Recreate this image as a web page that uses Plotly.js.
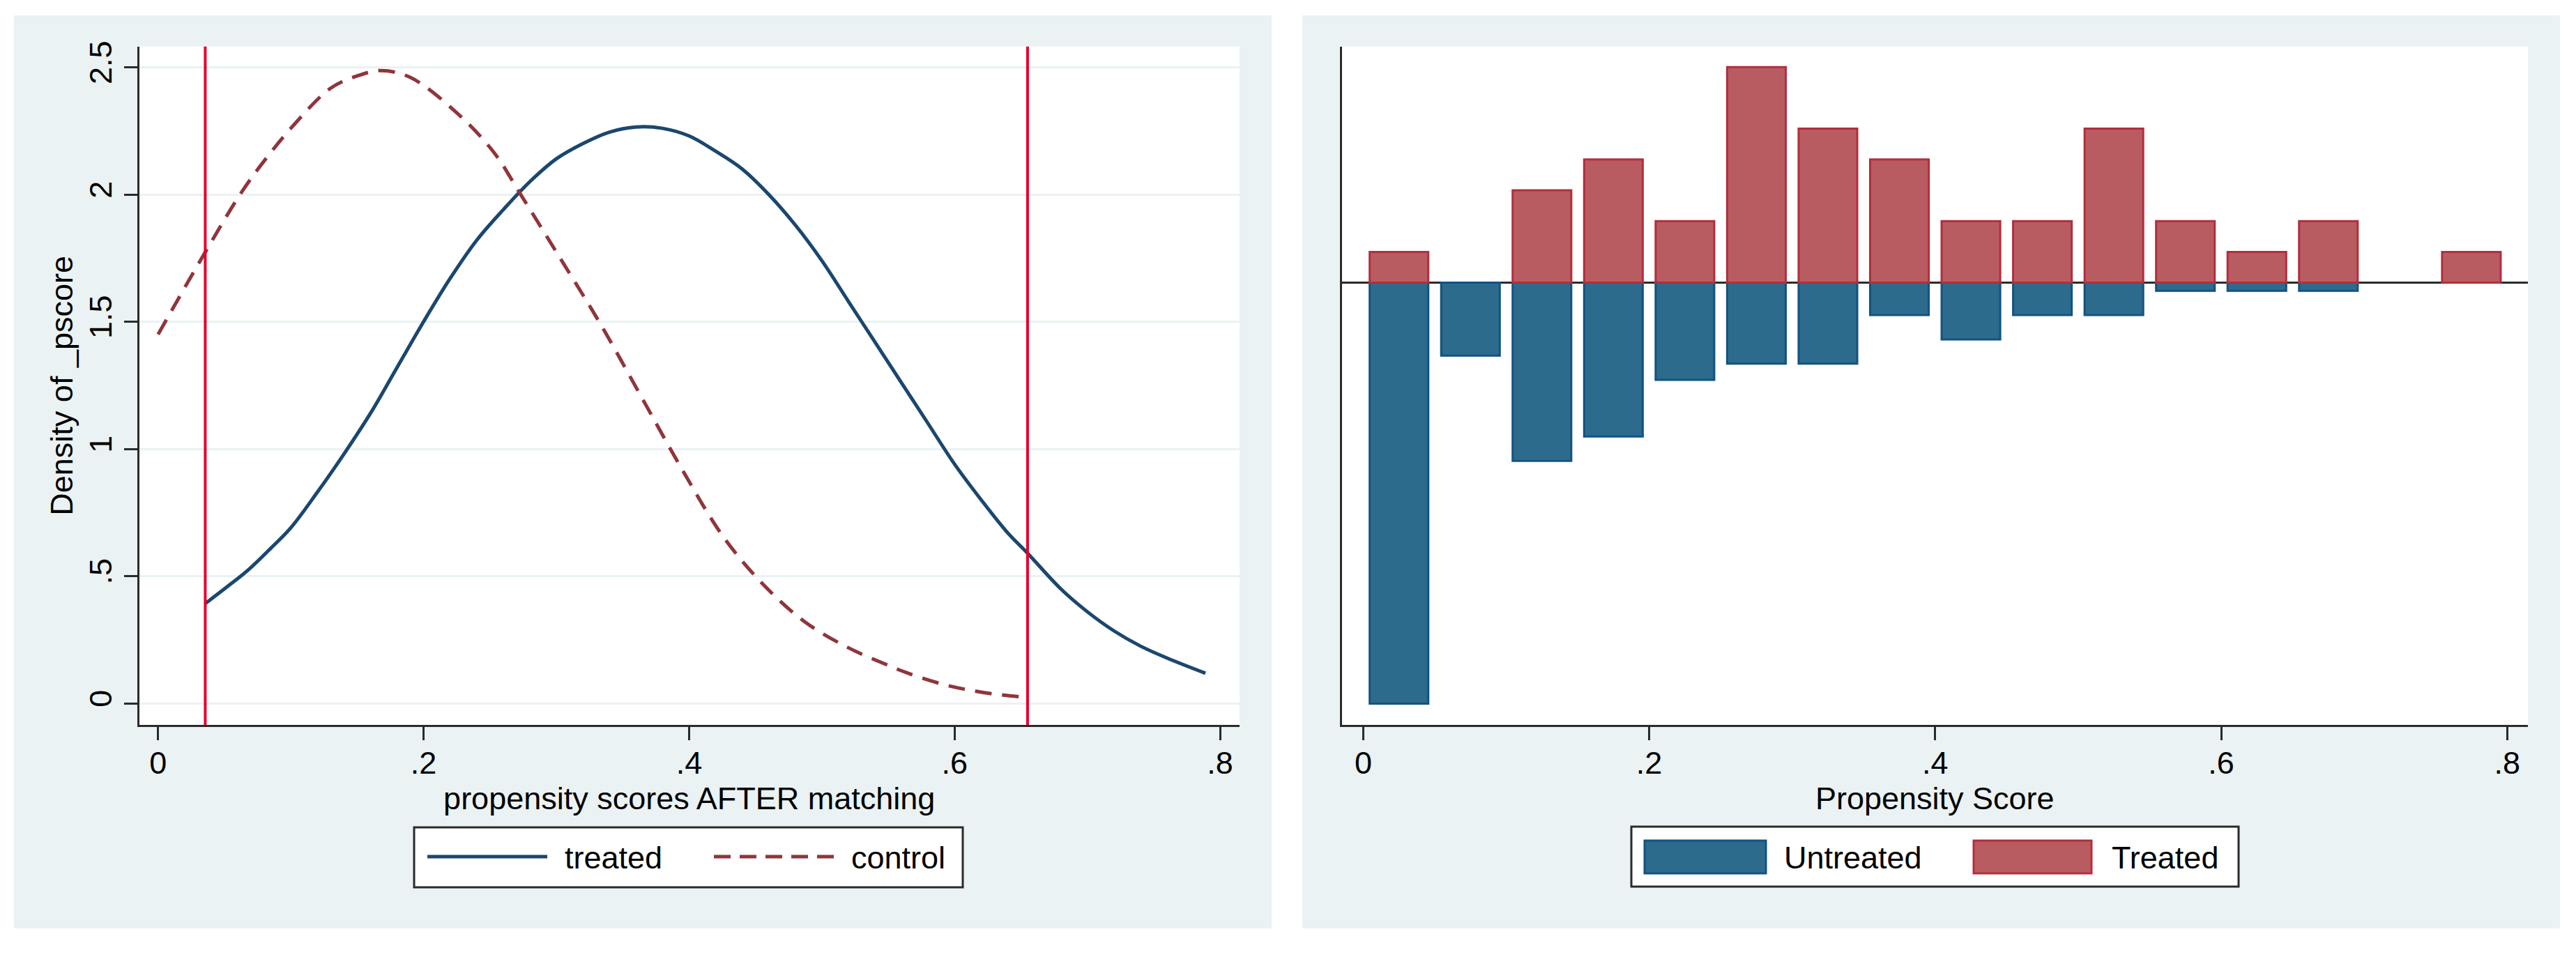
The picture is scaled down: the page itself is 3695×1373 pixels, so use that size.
<!DOCTYPE html>
<html>
<head>
<meta charset="utf-8">
<script src="https://cdn.plot.ly/plotly-3.0.1.min.js"></script>
<style>
  html, body { margin: 0; padding: 0; background: #ffffff; }
  #chart { width: 3695px; height: 1373px; }
</style>
</head>
<body>
<div id="chart"></div>
<script>
// ---------------- data ----------------
// Left panel: kernel densities of the propensity score after matching
const treatedX = [0.0355, 0.05, 0.067, 0.085, 0.10, 0.12, 0.14, 0.16, 0.18, 0.20, 0.22, 0.24, 0.26, 0.28, 0.30, 0.32, 0.34, 0.36, 0.38, 0.40, 0.42, 0.44, 0.46, 0.48, 0.50, 0.52, 0.54, 0.56, 0.58, 0.60, 0.62, 0.64, 0.655, 0.68, 0.70, 0.72, 0.74, 0.76, 0.789];
const treatedY = [0.392, 0.45, 0.52, 0.61, 0.69, 0.83, 0.98, 1.14, 1.32, 1.50, 1.67, 1.82, 1.94, 2.05, 2.14, 2.20, 2.245, 2.265, 2.26, 2.23, 2.17, 2.10, 2.00, 1.88, 1.74, 1.58, 1.42, 1.26, 1.10, 0.94, 0.80, 0.67, 0.59, 0.45, 0.36, 0.285, 0.225, 0.178, 0.118];

const controlX = [0.0, 0.0357, 0.063, 0.082, 0.102, 0.13, 0.15, 0.168, 0.19, 0.225, 0.253, 0.273, 0.302, 0.333, 0.364, 0.395, 0.426, 0.457, 0.488, 0.519, 0.55, 0.564, 0.591, 0.611, 0.632, 0.655];
const controlY = [1.45, 1.775, 2.01, 2.146, 2.272, 2.418, 2.466, 2.487, 2.46, 2.321, 2.165, 2.001, 1.757, 1.493, 1.205, 0.917, 0.653, 0.461, 0.317, 0.221, 0.149, 0.12, 0.075, 0.052, 0.035, 0.023];

// common-support lines (xline)
const supportLines = [0.0355, 0.655];

// Right panel: mirrored histogram of propensity scores (bin width .05)
const binCenters = [0.025, 0.075, 0.125, 0.175, 0.225, 0.275, 0.325, 0.375, 0.425, 0.475, 0.525, 0.575, 0.625, 0.675, 0.725, 0.775];
const treatedCounts   = [1, 0, 3, 4, 2, 7, 5, 4, 2, 2, 5, 2, 1, 2, 0, 1];
const untreatedCounts = [52, 9, 22, 19, 12, 10, 10, 4, 7, 4, 4, 1, 1, 1, 0, 0];

// axis ticks
const xTickVals = [0, 0.2, 0.4, 0.6, 0.8];
const xTickText = ['0', '.2', '.4', '.6', '.8'];
const yTickVals = [0, 0.5, 1, 1.5, 2, 2.5];
const yTickText = ['0', '.5', '1', '1.5', '2', '2.5'];

// text
const leftXTitle = 'propensity scores AFTER matching';
const leftYTitle = 'Density of _pscore';
const rightXTitle = 'Propensity Score';
const leftLegendLabels = ['treated', 'control'];
const rightLegendLabels = ['Untreated', 'Treated'];

// ---------------- derived ----------------
const sum = a => a.reduce((s, v) => s + v, 0);
const nT = sum(treatedCounts), nU = sum(untreatedCounts);
// fractions; empty bins are left out (null) so no zero-height outline is drawn
const treatedShare = treatedCounts.map(c => c === 0 ? null : c / nT);
const untreatedShare = untreatedCounts.map(c => c === 0 ? null : -c / nU);

// ---------------- style ----------------
const W = 3695, H = 1373;
const PX = v => v / W;
const PY = v => 1 - v / H;
const FONT = 'Liberation Sans, Arial, Helvetica, sans-serif';
const NAVY = '#1A476F', MAROON = '#90353B', VRED = '#E5002B';
const BLUE_FILL = '#2D6B8D', BLUE_LINE = '#125381';
const RED_FILL = '#B95C61', RED_LINE = '#B22E3E';
const PANEL = '#EAF2F3', AXIS = '#2a2a2a';

const traces = [
  { type: 'scatter', mode: 'lines', name: 'treated', x: treatedX, y: treatedY,
    line: { color: NAVY, width: 5, shape: 'spline', smoothing: 1 }, xaxis: 'x', yaxis: 'y', showlegend: false },
  { type: 'scatter', mode: 'lines', name: 'control', x: controlX, y: controlY,
    line: { color: MAROON, width: 5, dash: '24px,15px', shape: 'spline', smoothing: 1 }, xaxis: 'x', yaxis: 'y', showlegend: false },
  { type: 'bar', name: 'Untreated', x: binCenters, y: untreatedShare, width: 0.041,
    marker: { color: BLUE_FILL, line: { color: BLUE_LINE, width: 3 } }, xaxis: 'x2', yaxis: 'y2', showlegend: false },
  { type: 'bar', name: 'Treated', x: binCenters, y: treatedShare, width: 0.041,
    marker: { color: RED_FILL, line: { color: RED_LINE, width: 3 } }, xaxis: 'x2', yaxis: 'y2', showlegend: false }
];

const shapes = [
  // panel (graph region) backgrounds
  { type: 'rect', xref: 'paper', yref: 'paper', x0: PX(20), x1: PX(1824), y0: PY(1332), y1: PY(22), fillcolor: PANEL, line: { width: 0 }, layer: 'below' },
  { type: 'rect', xref: 'paper', yref: 'paper', x0: PX(1868), x1: PX(3672), y0: PY(1332), y1: PY(22), fillcolor: PANEL, line: { width: 0 }, layer: 'below' },
  // plot regions
  { type: 'rect', xref: 'x domain', yref: 'y domain', x0: 0, x1: 1, y0: 0, y1: 1, fillcolor: '#ffffff', line: { width: 0 }, layer: 'below' },
  { type: 'rect', xref: 'x2 domain', yref: 'y2 domain', x0: 0, x1: 1, y0: 0, y1: 1, fillcolor: '#ffffff', line: { width: 0 }, layer: 'below' }
];
supportLines.forEach(v => shapes.push({ type: 'line', xref: 'x', yref: 'y domain', x0: v, x1: v, y0: 0, y1: 1,
  line: { color: VRED, width: 4 }, layer: 'above' }));

// left legend (line keys)
shapes.push({ type: 'rect', xref: 'paper', yref: 'paper', x0: PX(594), x1: PX(1381), y0: PY(1273), y1: PY(1187), fillcolor: '#ffffff', line: { color: AXIS, width: 3 }, layer: 'above' });
shapes.push({ type: 'line', xref: 'paper', yref: 'paper', x0: PX(613), x1: PX(785), y0: PY(1229), y1: PY(1229), line: { color: NAVY, width: 5 }, layer: 'above' });
shapes.push({ type: 'line', xref: 'paper', yref: 'paper', x0: PX(1024), x1: PX(1196), y0: PY(1229), y1: PY(1229), line: { color: MAROON, width: 5, dash: '24px,13px' }, layer: 'above' });
// right legend (bar keys)
shapes.push({ type: 'rect', xref: 'paper', yref: 'paper', x0: PX(2340), x1: PX(3211), y0: PY(1272), y1: PY(1186), fillcolor: '#ffffff', line: { color: AXIS, width: 3 }, layer: 'above' });
shapes.push({ type: 'rect', xref: 'paper', yref: 'paper', x0: PX(2359), x1: PX(2533), y0: PY(1253), y1: PY(1206), fillcolor: BLUE_FILL, line: { color: BLUE_LINE, width: 3 }, layer: 'above' });
shapes.push({ type: 'rect', xref: 'paper', yref: 'paper', x0: PX(2831), x1: PX(3000), y0: PY(1253), y1: PY(1206), fillcolor: RED_FILL, line: { color: RED_LINE, width: 3 }, layer: 'above' });

const legendText = (txt, xLeft) => ({ text: txt, xref: 'paper', yref: 'paper', x: PX(xLeft), y: PY(1230),
  xanchor: 'left', yanchor: 'middle', showarrow: false, font: { family: FONT, size: 45, color: '#000' } });
const annotations = [
  legendText(leftLegendLabels[0], 808),
  legendText(leftLegendLabels[1], 1219),
  legendText(rightLegendLabels[0], 2557),
  legendText(rightLegendLabels[1], 3027)
];

const yDom = [PY(1040), PY(66.7)];
const commonX = {
  tickmode: 'array', tickvals: xTickVals, ticktext: xTickText,
  ticks: 'outside', ticklen: 19, tickwidth: 3, tickcolor: AXIS,
  showline: true, linewidth: 3, linecolor: AXIS, showgrid: false, zeroline: false,
  ticklabelstandoff: -6,
  tickfont: { family: FONT, size: 45, color: '#000' }
};

const layout = {
  width: W, height: H,
  margin: { l: 0, r: 0, t: 0, b: 0 },
  paper_bgcolor: '#ffffff', plot_bgcolor: 'rgba(0,0,0,0)',
  font: { family: FONT, size: 45, color: '#000' },
  showlegend: false,
  barmode: 'relative',
  xaxis: Object.assign({}, commonX, {
    domain: [PX(199.5), PX(1778)], range: [-0.014338, 0.814706], anchor: 'y',
    title: { text: leftXTitle, font: { family: FONT, size: 45, color: '#000' }, standoff: 0 }
  }),
  yaxis: {
    domain: yDom, range: [-0.08493, 2.58164], anchor: 'x',
    tickmode: 'array', tickvals: yTickVals, ticktext: yTickText, tickangle: -90,
    ticks: 'outside', ticklen: 19, tickwidth: 3, tickcolor: AXIS,
    showline: true, linewidth: 3, linecolor: AXIS,
    showgrid: true, gridcolor: PANEL, gridwidth: 3, zeroline: false,
    tickfont: { family: FONT, size: 45, color: '#000' },
    title: { text: leftYTitle, font: { family: FONT, size: 45, color: '#000' }, standoff: 0 }
  },
  xaxis2: Object.assign({}, commonX, {
    domain: [PX(1924.6), PX(3626)], range: [-0.015017, 0.814529], anchor: 'y2',
    title: { text: rightXTitle, font: { family: FONT, size: 45, color: '#000' }, standoff: 0 }
  }),
  yaxis2: {
    domain: yDom, range: [-0.35011, 0.18703], anchor: 'x2',
    showticklabels: false, ticks: '', showgrid: false,
    showline: true, linewidth: 3, linecolor: AXIS,
    zeroline: true, zerolinecolor: AXIS, zerolinewidth: 3
  },
  shapes: shapes,
  annotations: annotations
};

Plotly.newPlot('chart', traces, layout, { displayModeBar: false, staticPlot: true });
</script>
</body>
</html>
